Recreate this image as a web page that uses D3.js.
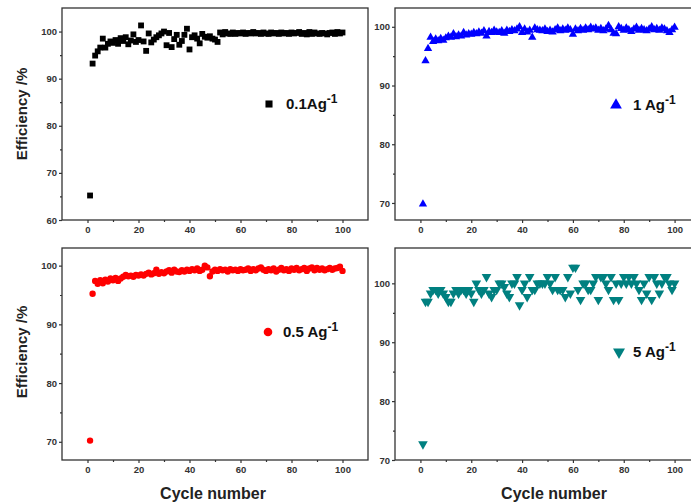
<!DOCTYPE html>
<html>
<head>
<meta charset="utf-8">
<script src="https://cdn.jsdelivr.net/npm/d3@7"></script>
<style>
  body { margin: 0; background: #fff; }
  svg { font-family: "Liberation Sans", Arial, sans-serif; }
  .tick text { font-size: 9.5px; font-weight: bold; fill: #333; }
</style>
</head>
<body>
<svg id="chart" width="691" height="504"></svg>
<script>
const cycles = d3.range(1, 101);

const xTicks = [0, 20, 40, 60, 80, 100];

const eff01 = [65.2, 93.2, 94.9, 95.8, 96.6, 98.5, 96.6, 97.4, 97.9, 97.6,
  98.2, 97.4, 98.6, 98.0, 98.8, 97.3, 98.1, 99.4, 97.8, 98.2,
  101.3, 97.9, 95.9, 99.6, 97.7, 98.3, 98.8, 99.2, 99.6, 100.0,
  97.1, 99.7, 96.7, 98.4, 99.3, 97.2, 98.0, 99.3, 100.6, 96.2,
  98.8, 99.2, 98.5, 97.5, 99.5, 98.9, 98.7, 99.0, 98.5, 98.3,
  97.8, 99.8, 99.4, 99.9, 99.6, 99.5, 99.8, 99.5, 99.7, 99.6,
  99.8, 99.5, 99.7, 99.6, 99.9, 99.6, 99.7, 99.5, 99.8, 99.6,
  99.5, 99.8, 99.6, 99.7, 99.5, 99.8, 99.6, 99.7, 99.5, 99.8,
  99.6, 99.7, 99.9, 99.5, 99.7, 99.4, 99.9, 99.5, 99.8, 99.6,
  99.5, 99.7, 99.6, 99.4, 99.7, 99.8, 99.5, 99.9, 99.6, 99.8];

const eff1 = [69.8, 94.2, 96.3, 98.2, 97.5, 97.9, 97.6, 98.0, 97.7, 98.1,
  98.4, 98.2, 98.8, 98.3, 98.6, 98.4, 99.0, 98.6, 98.8, 98.7,
  99.0, 98.8, 99.1, 98.9, 99.3, 98.4, 99.2, 99.0, 99.4, 99.1,
  99.0, 99.3, 98.9, 99.4, 99.2, 99.5, 99.3, 99.6, 100.0, 99.0,
  99.6, 99.1, 99.4, 98.2, 99.8, 99.5, 99.4, 99.3, 99.6, 99.2,
  99.4, 99.1, 99.5, 99.8, 99.3, 99.6, 99.4, 99.8, 99.5, 98.7,
  99.6, 99.3, 99.7, 99.4, 99.8, 99.5, 99.9, 99.6, 99.8, 99.4,
  99.7, 99.3, 99.6, 100.2, 99.5, 98.9, 98.8, 100.0, 99.7, 99.4,
  99.8, 99.5, 99.2, 99.6, 99.9, 99.4, 99.7, 99.5, 99.3, 99.6,
  100.0, 99.5, 99.7, 99.4, 99.8, 99.6, 99.3, 99.0, 99.5, 99.9];

const eff05 = [70.2, 95.2, 97.4, 96.9, 97.5, 97.0, 97.6, 97.3, 97.8, 97.5,
  97.9, 97.4, 97.8, 98.1, 98.4, 98.2, 98.3, 98.1, 98.4, 98.3,
  98.5, 98.3, 98.6, 98.8, 98.5, 98.7, 99.3, 98.6, 98.9, 98.7,
  99.0, 99.2, 98.8, 99.3, 99.0, 98.9, 99.2, 99.0, 99.3, 99.1,
  99.4, 99.2, 99.5, 99.1, 99.3, 100.0, 99.7, 98.2, 99.0, 99.3,
  99.1, 99.4, 99.2, 99.3, 99.0, 99.4, 99.2, 99.3, 99.1, 99.4,
  99.2, 99.3, 99.5, 99.1, 99.4, 99.2, 99.5, 99.7, 99.3, 99.1,
  99.4, 99.2, 99.5, 99.0, 99.3, 99.6, 99.2, 99.4, 99.1, 99.5,
  99.3, 99.6, 99.2, 99.4, 99.6, 99.1, 99.5, 99.7, 99.2, 99.6,
  99.3, 99.5, 99.2, 99.4, 99.6, 99.3, 99.5, 99.6, 99.8, 99.1];

const eff5 = [72.7, 96.9, 96.9, 98.3, 98.9, 98.9, 98.3, 98.9, 98.3, 97.7,
  96.9, 96.9, 98.3, 98.9, 98.3, 98.9, 98.9, 98.3, 98.9, 98.3,
  96.9, 100.0, 98.9, 98.3, 98.9, 101.1, 98.3, 97.7, 98.9, 98.9,
  100.0, 100.0, 99.4, 98.3, 97.7, 100.0, 100.0, 101.1, 96.3, 98.9,
  100.0, 97.7, 101.1, 98.9, 98.9, 100.0, 100.0, 100.0, 100.0, 101.1,
  100.0, 98.9, 101.1, 98.9, 98.9, 98.9, 97.7, 101.1, 98.3, 102.7,
  102.7, 98.9, 97.2, 100.0, 100.0, 98.9, 98.9, 100.0, 101.1, 97.2,
  101.1, 101.1, 100.0, 98.9, 101.1, 97.2, 100.0, 97.2, 100.0, 101.1,
  100.0, 101.1, 100.0, 101.1, 100.0, 98.9, 97.2, 100.0, 98.3, 101.1,
  97.2, 101.1, 100.0, 98.3, 100.0, 101.1, 101.1, 100.0, 98.9, 100.0];

const svg = d3.select("#chart");

const LEFT_X = [62, 368];
const RIGHT_X = [395, 700];
const TOP_Y = [220, 8];
const BOT_Y = [460, 248];

const panels = [
  {values: eff01, xr: LEFT_X, yr: TOP_Y, yd: [60, 105], yTicks: [60, 70, 80, 90, 100],
   color: "#000000", symbol: d3.symbolSquare, size: 34, rot: 0,
   legend: {x: 269, y: 104, label: "0.1Ag", lsize: 50, gap: 17}},
  {values: eff1, xr: RIGHT_X, yr: TOP_Y, yd: [67.1, 103.2], yTicks: [70, 80, 90, 100],
   color: "#0000ff", symbol: d3.symbolTriangle, size: 30, rot: 0,
   legend: {x: 616, y: 105, label: "1 Ag", lsize: 60, gap: 17}},
  {values: eff05, xr: LEFT_X, yr: BOT_Y, yd: [66.9, 103], yTicks: [70, 80, 90, 100],
   color: "#ff0000", symbol: d3.symbolCircle, size: 32, rot: 0,
   legend: {x: 268, y: 332, label: "0.5 Ag", lsize: 58, gap: 15}},
  {values: eff5, xr: RIGHT_X, yr: BOT_Y, yd: [70, 106], yTicks: [70, 80, 90, 100],
   color: "#008080", symbol: d3.symbolTriangle, size: 40, rot: 180,
   legend: {x: 619, y: 352, label: "5 Ag", lsize: 62, gap: 14}}
];

panels.forEach((p) => {
  const X_SCALE = d3.scaleLinear().domain([-10, 110]).range(p.xr);
  const Y_SCALE = d3.scaleLinear().domain(p.yd).range(p.yr);
  const g = svg.append("g");

  // frame
  g.append("rect")
    .attr("x", p.xr[0]).attr("y", p.yr[1])
    .attr("width", p.xr[1] - p.xr[0]).attr("height", p.yr[0] - p.yr[1])
    .attr("fill", "none").attr("stroke", "#333").attr("stroke-width", 1.3);

  // minor ticks
  const xMinor = d3.range(10, 110, 20);
  g.append("g")
    .attr("transform", "translate(0," + p.yr[0] + ")")
    .call(d3.axisBottom(X_SCALE).tickValues(xMinor).tickSize(2).tickFormat(""))
    .call((a) => a.select(".domain").remove());
  const yMinor = p.yTicks.slice(0, -1).map((v) => v + 5);
  g.append("g")
    .attr("transform", "translate(" + p.xr[0] + ",0)")
    .call(d3.axisLeft(Y_SCALE).tickValues(yMinor).tickSize(2).tickFormat(""))
    .call((a) => a.select(".domain").remove());

  // major axes
  g.append("g")
    .attr("transform", "translate(0," + p.yr[0] + ")")
    .call(d3.axisBottom(X_SCALE).tickValues(xTicks).tickSize(3).tickPadding(3))
    .call((a) => a.select(".domain").remove());
  g.append("g")
    .attr("transform", "translate(" + p.xr[0] + ",0)")
    .call(d3.axisLeft(Y_SCALE).tickValues(p.yTicks).tickSize(3).tickPadding(2))
    .call((a) => a.select(".domain").remove());
  g.selectAll(".tick line").attr("stroke", "#333").attr("stroke-width", 1.2);

  // points
  const sym = d3.symbol().type(p.symbol).size(p.size);
  g.selectAll(".pt")
    .data(p.values)
    .enter()
    .append("path")
      .attr("d", sym)
      .attr("transform", (d, i) => "translate(" + X_SCALE(cycles[i]) + "," + Y_SCALE(d) + ") rotate(" + p.rot + ")")
      .attr("fill", p.color);

  // legend
  const L = p.legend;
  g.append("path")
    .attr("d", d3.symbol().type(p.symbol).size(L.lsize))
    .attr("transform", "translate(" + L.x + "," + L.y + ") rotate(" + p.rot + ")")
    .attr("fill", p.color);
  const t = g.append("text")
    .attr("x", L.x + L.gap).attr("y", L.y + 5)
    .attr("font-size", 15).attr("font-weight", "bold").attr("fill", "#111");
  t.append("tspan").text(L.label);
  t.append("tspan").attr("dy", -6).attr("font-size", 12).text("-1");
});

// axis titles
svg.append("text")
  .attr("transform", "translate(27,114) rotate(-90)")
  .attr("text-anchor", "middle").attr("font-size", 15).attr("font-weight", "bold")
  .attr("fill", "#222").text("Efficiency /%");
svg.append("text")
  .attr("transform", "translate(27,352) rotate(-90)")
  .attr("text-anchor", "middle").attr("font-size", 15).attr("font-weight", "bold")
  .attr("fill", "#222").text("Efficiency /%");
svg.append("text")
  .attr("x", 213).attr("y", 499)
  .attr("text-anchor", "middle").attr("font-size", 16).attr("font-weight", "bold")
  .attr("fill", "#222").text("Cycle number");
svg.append("text")
  .attr("x", 554).attr("y", 499)
  .attr("text-anchor", "middle").attr("font-size", 16).attr("font-weight", "bold")
  .attr("fill", "#222").text("Cycle number");
</script>
</body>
</html>
